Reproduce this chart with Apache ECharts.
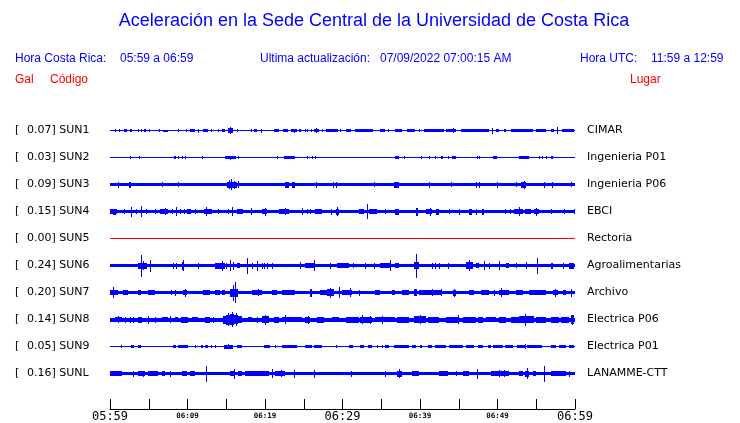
<!DOCTYPE html>
<html>
<head>
<meta charset="utf-8">
<title>Aceleración Sede Central UCR</title>
<script src="https://cdn.jsdelivr.net/npm/echarts@6.0.0/dist/echarts.min.js"></script>
<style>
  html, body { margin: 0; padding: 0; background: #fff; }
  #chart { width: 740px; height: 423px; }
</style>
</head>
<body>
<div id="chart"></div>
<script>
// estaciones, de arriba hacia abajo
var codes = ['SUN1', 'SUN2', 'SUN3', 'SUN4', 'SUN5', 'SUN6', 'SUN7', 'SUN8', 'SUN9', 'SUNL'];
var places = ['CIMAR', 'Ingenieria P01', 'Ingenieria P06', 'EBCI', 'Rectoria',
  'Agroalimentarias', 'Archivo', 'Electrica P06', 'Electrica P01', 'LANAMME-CTT'];
var gal = ['0.07', '0.03', '0.09', '0.15', '0.00', '0.24', '0.20', '0.14', '0.05', '0.16'];
// nivel de ruido de fondo de cada traza
var baseAmp = [0.5, 0.5, 1.8, 1.7, 0.5, 1.7, 1.7, 2, 0.5, 1.7];
// minutos desde 05:59, etiquetas cada 10 min
var tickLabels = ['05:59', '06:09', '06:19', '06:29', '06:39', '06:49', '06:59'];

// [min inicio, min fin, amplitud]
var sun1 = [[0.65,0.65,1.3],[1.16,1.16,1.3],[1.85,2.19,1.5],[2.62,2.8,1.5],[3.65,3.65,1.3],[4.0,4.0,1.3],
  [4.43,4.61,1.5],[5.03,5.03,1.3],[6.33,6.49,1.5],[6.88,7.53,1],[8.82,8.82,1.3],[9.85,9.94,1.3],
  [10.33,10.97,1.5],[11.32,11.49,2],[12.05,12.61,1.5],[13.04,13.04,1.3],[13.9,13.9,1.3],[14.5,14.85,1.3],
  [15.27,15.92,2.5],[15.53,15.53,3.5],[16.36,16.36,1.3],[18.2,18.2,1.3],[18.63,18.98,1.5],[19.49,19.66,2],
  [21.13,21.86,1.5],[22.3,22.98,1.5],[23.4,24.1,1.5],[23.75,23.75,2],[24.44,24.7,1.3],[25.14,25.14,1.3],
  [25.47,25.47,1.3],[25.91,26.08,1.3],[26.34,26.94,1.5],[26.6,26.6,2.5],[27.37,27.37,1.3],[27.89,29.43,1.5],
  [29.7,29.7,1.3],[30.47,31.15,1.5],[31.59,33.99,1.5],[34.86,35.46,1.8],[35.89,35.89,1.3],[36.76,37.7,1.5],
  [38.3,39.34,1.3],[39.85,39.85,1.3],[40.54,43.12,1.3],[43.34,44.63,1.7],[44.2,44.2,2.5],[45.28,48.93,1.3],
  [49.28,49.45,3],[49.8,50.2,1.3],[50.87,51.09,1.3],[51.74,54.53,1.3],[54.97,56.26,1.3],[56.9,57.33,1.5],
  [57.63,57.8,3.5],[58.32,59.9,1.5]];
var sun2 = [[2.62,2.62,1.3],[3.79,3.79,1.5],[8.3,8.48,1.3],[8.82,8.82,1.5],[9.34,9.34,1.3],[9.68,9.68,1.3],
  [11.84,11.84,1.3],[14.85,16.23,1.5],[15.49,15.49,2],[16.57,16.57,1.5],[21.56,21.56,1.3],[22.46,23.92,1.5],
  [25.47,25.47,1.3],[26.08,26.08,1.3],[26.5,26.5,1.3],[36.76,37.27,1.5],[37.96,37.96,1.5],[40.1,40.1,1.3],
  [41.1,41.1,1.3],[41.96,41.96,1.3],[42.7,43.0,1.3],[43.67,43.67,1.3],[44.1,44.7,1.5],[47.3,47.3,1.3],
  [47.65,47.65,1.3],[49.45,49.88,1.5],[52.8,54.1,1.5],[55.4,55.4,1.3],[55.8,55.8,1.3],[56.2,56.2,1.3],
  [56.9,57.2,1.5]];
var sun3 = [[1.07,1.07,3],[2.45,2.71,3],[6.67,6.67,2.5],[8.82,8.82,2.8],[15.06,16.36,3],[15.36,15.36,4.5],
  [15.62,15.62,5.5],[16.05,16.05,4],[16.57,16.57,3.5],[22.6,23.07,3],[23.5,23.9,3],[26.6,26.6,3],
  [28.75,28.75,3],[29.2,29.2,3],[34.0,34.0,2.8],[36.6,37.27,3],[41.1,41.1,3],[44.0,44.0,2.8],
  [47.2,47.2,3],[47.55,47.55,3],[49.9,49.9,3],[52.4,52.4,2.8],[53.0,53.7,3],[53.4,53.4,4],
  [56.0,56.0,3],[57.0,57.0,3],[59.5,59.5,2.5]];
var sun4 = [[0,0.86,2.5],[0.43,0.73,3],[1.85,1.85,2.5],[2.67,2.67,5],[3.31,3.31,2.5],[4.05,4.05,5.5],
  [4.69,4.69,2.5],[5.81,5.81,2.5],[6.46,7.53,2.5],[7.1,7.1,3.5],[7.96,7.96,2.5],[8.52,8.52,4.5],
  [9.08,9.08,2.5],[9.6,9.6,2.5],[9.98,10.46,2.5],[10.97,10.97,2.5],[12.18,13.13,2.8],[12.4,12.4,4.5],
  [13.9,13.9,2.5],[15.2,15.2,2.5],[15.71,15.71,4.5],[16.36,17.13,2.8],[18.2,18.2,3.2],[19.58,20.27,2.8],
  [19.97,19.97,4],[21.8,23.07,2.5],[22.64,22.64,3.8],[24.79,24.79,3.5],[25.43,25.43,2.8],[25.78,25.78,2.8],
  [26.5,27.37,2.5],[28.57,28.57,3],[29.1,29.5,3],[29.3,29.3,4.5],[32.1,32.76,2.5],[33.22,33.22,7.5],
  [33.4,34.47,2.8],[35.54,35.54,2.5],[36.83,37.27,3],[39.5,39.76,4],[40.76,41.6,2.8],[41.28,41.28,4],
  [42.06,42.4,3],[43.78,43.78,2.5],[44.98,44.98,3],[46.36,46.7,3],[47.23,47.23,3],[48.0,48.2,3],
  [51.0,51.0,2.5],[51.6,51.6,2.5],[52.17,53.24,2.8],[52.8,52.8,4.5],[53.58,54.32,2.8],[54.74,55.39,2.8],
  [54.97,54.97,4],[56.9,56.9,2.5],[58.62,58.62,2.5],[59.9,59.9,2.5]];
var sun5 = [];
var sun6 = [[3.66,4.73,3],[4.05,4.05,11],[4.3,4.3,4.5],[5.21,5.21,6],[8.18,8.18,3],[8.52,8.52,3],
  [9.25,9.6,4],[9.38,9.38,5.5],[11.32,11.32,3],[13.56,14.85,3],[14.42,14.42,5],[14.93,14.93,3],
  [15.49,15.49,5.5],[15.84,15.84,4],[16.36,16.79,2.5],[17.73,17.73,8],[18.3,18.3,3],[18.94,18.94,5],
  [19.58,19.58,3],[19.84,19.84,3],[20.27,20.27,3],[20.9,20.9,3],[24.57,24.57,3.5],[25.14,26.5,2.8],
  [26.38,26.38,5.5],[28.44,28.44,3],[29.3,30.8,2.5],[31.33,31.33,2.5],[32.96,32.96,3],[34.0,34.0,3],
  [34.9,36.19,2.8],[36.1,36.1,5.5],[36.83,37.27,2.5],[39.2,39.85,3.5],[39.42,39.42,12],[41.53,41.53,3],
  [41.96,41.96,3],[42.4,42.4,3],[43.55,43.55,3],[45.93,46.79,3.5],[46.26,46.26,5.5],[47.23,47.65,2.8],
  [48.29,48.29,4.5],[48.94,48.94,3],[50.15,50.15,4.5],[51.1,51.5,2.8],[52.37,52.37,2.5],[53.66,53.66,3.5],
  [55.06,55.06,8],[56.9,57.1,3],[58.5,58.5,3],[59.27,59.9,3]];
var sun7 = [[0,1.07,2.3],[0.43,0.43,5.5],[1.72,2.37,2.8],[3.57,4.0,2.8],[4.95,5.81,2.5],[7.87,7.87,2.8],
  [8.39,8.39,3],[9.47,9.9,2.8],[9.68,9.68,4],[12.05,12.9,2.5],[13.56,14.2,2.3],[14.42,14.85,2.5],
  [15.49,16.57,4],[15.92,15.92,8],[16.14,16.14,10.5],[18.3,19.58,2.5],[19.06,19.06,3.5],[20.9,21.56,2.5],
  [22.2,23.92,2.5],[25.86,26.08,4],[27.15,28.0,2.8],[28.0,28.88,3.5],[28.44,28.44,5],[29.6,29.6,5.5],
  [29.95,31.24,2.8],[31.03,31.03,4.5],[32.1,32.1,3],[34.25,34.9,2.5],[36.4,36.83,2.5],[37.7,38.56,2.5],
  [39.2,39.63,3.5],[39.9,42.9,2.3],[41.6,41.6,3.5],[42.7,42.7,3.5],[44.2,44.6,3],[44.4,44.4,4],
  [46.36,47.0,2.5],[47.86,48.93,2.8],[49.58,49.58,3],[50.15,51.5,2.8],[50.45,50.45,4.5],[52.37,53.24,2.5],
  [54.1,56.26,2.5],[57.1,57.76,2.8],[57.46,57.46,4],[58.4,58.85,2.5],[59.5,59.5,4]];
var sun8 = [[0.65,1.5,2.8],[1.07,1.07,3.5],[1.94,1.94,3],[2.58,2.58,3],[3.0,3.0,3],[3.66,4.1,3],
  [4.95,4.95,4],[5.81,5.81,3],[6.67,7.53,2.8],[7.75,7.75,3.5],[8.39,8.82,2.8],[9.17,10.11,3],
  [10.54,11.4,2.8],[12.26,12.91,3],[13.34,13.34,3],[14.63,15.0,4],[15.0,15.5,5],[15.5,16.0,5.5],
  [16.0,16.5,4.5],[16.5,17.0,3.5],[15.27,15.27,6.5],[15.71,15.71,7.5],[16.23,16.23,6.5],[17.86,18.3,2.8],
  [18.94,18.94,3],[19.58,19.58,3],[19.6,20.5,3.5],[20.05,20.05,5],[21.13,21.78,3],[22.2,24.8,2.8],
  [22.64,22.64,4.5],[25.2,25.86,3],[25.56,25.56,4],[26.73,27.6,3],[28.66,29.5,2.8],[30.4,32.1,3],
  [32.3,33.8,3],[32.54,32.54,4.5],[33.6,33.6,4],[34.25,36.83,2.8],[35.1,35.1,4],[37.0,38.56,3],
  [39.2,40.76,3.5],[40.06,40.06,4.5],[40.98,42.5,3],[43.34,45.06,3],[44.85,44.85,4.5],[45.5,47.23,3],
  [47.43,48.07,3],[48.5,49.8,2.8],[50.2,51.1,3],[51.74,52.8,3],[52.8,54.74,3.5],[53.58,53.58,6],
  [54.97,56.26,3],[56.9,57.97,3],[58.2,59.27,3],[59.5,59.9,4.5],[59.6,59.6,5]];
var sun9 = [[1.38,1.38,1.5],[2.71,3.06,1.5],[3.66,4.0,1.5],[8.18,8.48,1.5],[8.82,10.11,1.3],[9.47,9.47,1.8],
  [10.97,10.97,1.3],[11.75,12.05,1.5],[12.26,12.61,1.5],[13.04,13.04,1.3],[13.56,13.56,1.5],[14.76,15.92,2],
  [15.27,15.27,2.8],[16.36,17.0,1.5],[19.84,20.7,1.5],[21.35,21.35,1.3],[22.2,24.15,1.5],[25.2,26.08,1.3],
  [26.3,27.37,1.3],[29.18,29.18,1.3],[30.9,31.33,1.5],[32.3,32.76,1.5],[33.3,33.84,1.8],[34.47,34.47,1.3],
  [35.1,35.1,1.3],[35.54,35.97,1.5],[36.6,38.56,1.5],[39.0,39.42,1.5],[40.06,40.3,1.8],[40.98,41.6,1.3],
  [41.96,43.34,1.3],[43.78,45.5,1.3],[45.93,47.0,1.3],[47.43,48.07,1.3],[48.72,49.15,1.3],[49.37,50.66,1.5],
  [51.0,51.94,1.3],[52.58,53.66,1.5],[53.58,53.58,2.2],[53.87,55.8,1.3],[56.9,57.55,1.5],[57.97,58.85,1.3],
  [59.27,59.9,1.5]];
var sunL = [[0,1.5,2.2],[3.0,3.0,3],[3.66,4.52,2.3],[4.3,4.3,3],[4.95,6.24,2.2],[6.67,7.1,2.3],
  [7.75,7.75,3],[9.25,9.9,2.5],[10.33,10.97,2.3],[12.44,12.44,8],[15.49,16.14,2.8],[16.06,16.06,5],
  [16.57,17.0,2.3],[17.44,20.5,2.2],[20.9,20.9,4.5],[21.35,22.64,2.5],[22.0,22.0,3.5],[23.7,23.7,4],
  [26.3,26.3,4],[31.15,31.15,3],[35.46,35.46,3],[37.05,37.7,3],[37.35,37.35,4.5],[39.0,39.85,2.5],
  [42.48,43.55,2.5],[44.63,44.63,2.5],[45.49,46.36,2.3],[47.3,47.3,5],[49.15,51.5,2.5],[50.2,50.2,3.5],
  [50.86,50.86,3.5],[52.8,53.24,2.5],[53.58,54.1,3],[53.87,53.87,5.5],[54.53,54.97,2.5],[55.96,55.96,8],
  [56.9,58.85,2.3],[59.27,59.27,3]];
var traces = [sun1, sun2, sun3, sun4, sun5, sun6, sun7, sun8, sun9, sunL];

var BLUE = '#0000ff';
var RED = '#ff0000';
var FONT = '"DejaVu Sans", sans-serif';
var HFONT = '"Liberation Sans", Arial, sans-serif';

var chart = echarts.init(document.getElementById('chart'));

// cada tramo se dibuja como un rectangulo centrado en la fila de la estacion
function renderTrace(params, api) {
  var row = api.value(1);
  var a = api.coord([api.value(0), row]);
  var b = api.coord([api.value(2), row]);
  var h = api.value(3);
  var x0 = Math.round(a[0]);
  var w = Math.max(Math.round(b[0]) - x0, 1);
  var y0 = Math.round(a[1] - h);
  var y1 = Math.round(a[1] + h);
  return {
    type: 'rect',
    shape: { x: x0, y: y0, width: w, height: Math.max(y1 - y0, 1) },
    style: { fill: api.visual('color') }
  };
}

var series = traces.map(function (tr, i) {
  var data = [[0, i, 60, baseAmp[i]]];
  tr.forEach(function (s) {
    data.push([s[0], i, s[1], s[2]]);
  });
  return {
    type: 'custom',
    name: codes[i],
    renderItem: renderTrace,
    color: codes[i] === 'SUN5' ? RED : BLUE,
    encode: { x: [0, 2], y: 1 },
    data: data,
    clip: false,
    silent: true
  };
});

function hText(text, x, y, color, size, align) {
  return {
    type: 'text',
    x: x,
    y: y,
    silent: true,
    style: {
      text: text,
      fill: color,
      font: size + 'px ' + HFONT,
      align: align || 'left',
      verticalAlign: 'middle',
      textAlign: align || 'left',
      textVerticalAlign: 'middle'
    }
  };
}

var option = {
  animation: false,
  backgroundColor: '#fff',
  grid: { left: 110, width: 465, top: 117, height: 270 },
  xAxis: {
    type: 'value',
    min: 0,
    max: 60,
    interval: 5,
    offset: 22,
    splitLine: { show: false },
    axisLine: { show: true, lineStyle: { color: '#000', width: 1 } },
    axisTick: { show: true, inside: true, length: 10, lineStyle: { color: '#000', width: 1 } },
    axisLabel: {
      margin: 1,
      color: '#000',
      showMinLabel: true,
      showMaxLabel: true,
      formatter: function (v) {
        if (v % 10 !== 0) return '';
        var t = tickLabels[v / 10];
        return v % 30 === 0 ? '{big|' + t + '}' : '{small|' + t + '}';
      },
      rich: {
        big: { fontFamily: '"DejaVu Sans Mono", monospace', fontSize: 12, lineHeight: 14, color: '#000' },
        small: { fontFamily: '"DejaVu Sans Mono", monospace', fontSize: 7.5, fontWeight: 'bold', lineHeight: 12, color: '#000' }
      }
    }
  },
  yAxis: [
    {
      type: 'category',
      data: codes,
      inverse: true,
      axisLine: { show: false },
      axisTick: { show: false },
      splitLine: { show: false },
      axisLabel: {
        align: 'left',
        margin: 95,
        color: '#000',
        fontFamily: FONT,
        fontSize: 11,
        formatter: function (v, i) {
          return '{br|[}' + gal[i] + '] ' + v;
        },
        rich: { br: { width: 12, fontFamily: FONT, fontSize: 11, color: '#000' } }
      }
    },
    {
      type: 'category',
      data: places,
      inverse: true,
      position: 'right',
      axisLine: { show: false },
      axisTick: { show: false },
      splitLine: { show: false },
      axisLabel: { align: 'left', margin: 12, color: '#000', fontFamily: FONT, fontSize: 11 }
    }
  ],
  graphic: [
    hText('Aceleración en la Sede Central de la Universidad de Costa Rica', 374, 21, BLUE, 18, 'center'),
    hText('Hora Costa Rica:', 15, 59, BLUE, 12),
    hText('05:59 a 06:59', 120, 59, BLUE, 12),
    hText('Ultima actualización:', 260, 59, BLUE, 12),
    hText('07/09/2022 07:00:15 AM', 380, 59, BLUE, 12),
    hText('Hora UTC:', 580, 59, BLUE, 12),
    hText('11:59 a 12:59', 651, 59, BLUE, 12),
    hText('Gal', 15, 80, RED, 12),
    hText('Código', 50, 80, RED, 12),
    hText('Lugar', 630, 80, RED, 12)
  ],
  series: series
};

chart.setOption(option);
</script>
</body>
</html>
